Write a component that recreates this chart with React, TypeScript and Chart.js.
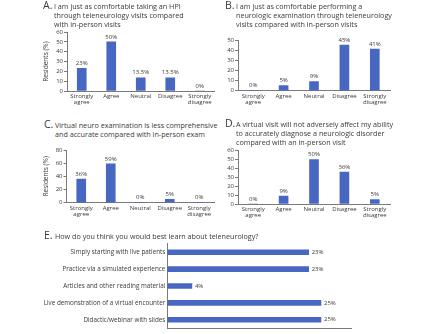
import React, { useEffect, useRef } from "react";
import { Chart, registerables } from "chart.js";
Chart.register(...registerables);

const likertLabels: (string | string[])[] = [["Strongly", "agree"], "Agree", "Neutral", "Disagree", ["Strongly", "disagree"]];
const valuesA = [23, 50, 13.5, 13.5, 0];
const valuesB = [0, 5, 9, 45, 41];
const valuesC = [36, 59, 0, 5, 0];
const valuesD = [0, 9, 50, 36, 5];
const learnLabels = [
  "Simply starting with live patients",
  "Practice via a simulated experience",
  "Articles and other reading material",
  "Live demonstration of a virtual encounter",
  "Didactic/webinar with slides",
];
const valuesE = [23, 23, 4, 25, 25];

const FONT = "'Open Sans', 'DejaVu Sans', sans-serif";
const TEXT = "#3a3a3a";
const AXIS = "#7a7a7a";
const BLUE = "#4767c3";

const valueLabels = {
  id: "valueLabels",
  afterDatasetsDraw(chart: any) {
    const ctx = chart.ctx;
    const horizontal = chart.options.indexAxis === "y";
    chart.data.datasets.forEach((ds: any, di: number) => {
      const meta = chart.getDatasetMeta(di);
      meta.data.forEach((el: any, i: number) => {
        const v = ds.data[i];
        ctx.save();
        ctx.font = "6px " + FONT;
        ctx.fillStyle = TEXT;
        if (horizontal) {
          ctx.textAlign = "left";
          ctx.textBaseline = "middle";
          ctx.fillText(v + "%", el.x + 3, el.y);
        } else {
          ctx.textAlign = "center";
          ctx.textBaseline = "bottom";
          ctx.fillText(v + "%", el.x, el.y - 2);
        }
        ctx.restore();
      });
    });
  },
};

type Box = { x: number; y: number; w: number; h: number };
type Area = { l: number; t: number; r: number; b: number };

function BarPanel(props: {
  box: Box;
  area: Area;
  labels: any[];
  values: number[];
  max: number;
  step?: number;
  yTitle?: string;
  horizontal?: boolean;
}) {
  const ref = useRef<HTMLCanvasElement>(null);
  useEffect(() => {
    const { box, area, labels, values, max, step, yTitle, horizontal } = props;
    const padLeft = yTitle ? 2 : 0;
    const font = { family: FONT, size: 6, lineHeight: 1.05 };
    let scales: any;
    if (!horizontal) {
      scales = {
        x: {
          type: "category",
          grid: { display: false, drawTicks: false, tickLength: 0 },
          border: { display: true, color: AXIS, width: 1 },
          ticks: { font, color: TEXT, padding: 2, maxRotation: 0, autoSkip: false },
          afterFit: (s: any) => {
            s.height = box.y + box.h - area.b;
          },
        },
        y: {
          min: 0,
          max,
          ticks: { stepSize: step, font, color: TEXT, padding: 1, autoSkip: false },
          grid: { drawOnChartArea: false, drawTicks: true, tickLength: 3, color: AXIS },
          border: { display: true, color: AXIS, width: 1 },
          title: yTitle
            ? { display: true, text: yTitle, font: { family: FONT, size: 6.5 }, color: TEXT, padding: 0 }
            : { display: false },
          afterFit: (s: any) => {
            s.width = area.l - box.x - padLeft;
          },
        },
      };
    } else {
      scales = {
        x: {
          min: 0,
          max,
          ticks: { display: false },
          grid: { display: false, drawTicks: false, tickLength: 0 },
          border: { display: true, color: AXIS, width: 1 },
          afterFit: (s: any) => {
            s.height = box.y + box.h - area.b;
          },
        },
        y: {
          type: "category",
          grid: { display: false, drawTicks: false, tickLength: 0 },
          border: { display: true, color: AXIS, width: 1 },
          ticks: { font: { family: FONT, size: 6.3 }, color: TEXT, padding: 2, autoSkip: false },
          afterFit: (s: any) => {
            s.width = area.l - box.x;
          },
        },
      };
    }
    const chart = new Chart(ref.current as HTMLCanvasElement, {
      type: "bar",
      data: {
        labels,
        datasets: [
          {
            data: values,
            backgroundColor: BLUE,
            borderWidth: 0,
            barThickness: horizontal ? 5 : 9,
          } as any,
        ],
      },
      options: {
        indexAxis: horizontal ? "y" : "x",
        responsive: false,
        animation: false,
        devicePixelRatio: 1,
        layout: {
          padding: {
            left: padLeft,
            top: area.t - box.y,
            right: box.x + box.w - area.r,
            bottom: 0,
          },
        },
        plugins: { legend: { display: false }, tooltip: { enabled: false } },
        scales,
      } as any,
      plugins: [valueLabels],
    });
    return () => chart.destroy();
  }, []);
  const { box } = props;
  return (
    <canvas
      ref={ref}
      width={box.w}
      height={box.h}
      style={{ position: "absolute", left: box.x, top: box.y, width: box.w, height: box.h }}
    />
  );
}

function Title(props: { letter: string; lines: string[]; x: number; y: number }) {
  return (
    <div
      style={{
        position: "absolute",
        left: props.x + 11,
        top: props.y,
        textIndent: -11,
        fontFamily: FONT,
        fontSize: 7.2,
        lineHeight: "9px",
        color: TEXT,
        whiteSpace: "nowrap",
        zIndex: 2,
      }}
    >
      <span style={{ display: "inline-block", width: 11, textIndent: 0, fontSize: 10.5 }}>{props.letter}</span>
      {props.lines.map((l, i) => (
        <React.Fragment key={i}>
          {i > 0 ? <br /> : null}
          {l}
        </React.Fragment>
      ))}
    </div>
  );
}

export default function App() {
  return (
    <div
      style={{
        position: "absolute",
        left: 0,
        top: 0,
        width: 443,
        height: 334,
        overflow: "hidden",
        background: "#fff",
      }}
    >
      <Title
        letter="A."
        x={43}
        y={0.5}
        lines={["I am just as comfortable taking an HPI", "through teleneurology visits compared", "with in-person visits"]}
      />
      <Title
        letter="B."
        x={225}
        y={0.5}
        lines={[
          "I am just as comfortable performing a",
          "neurologic examination through teleneurology",
          "visits compared with in-person visits",
        ]}
      />
      <Title
        letter="C."
        x={44}
        y={119.5}
        lines={["Virtual neuro examination is less comprehensive", "and accurate compared with in-person exam"]}
      />
      <Title
        letter="D."
        x={225}
        y={118.5}
        lines={[
          "A virtual visit will not adversely affect my ability",
          "to accurately diagnose a neurologic disorder",
          "compared with an in-person visit",
        ]}
      />
      <Title letter="E." x={44} y={230.5} lines={["How do you think you would best learn about teleneurology?"]} />

      <BarPanel
        box={{ x: 40, y: 26, w: 180, h: 86 }}
        area={{ l: 67, t: 32, r: 214.5, b: 91 }}
        labels={likertLabels}
        values={valuesA}
        max={60}
        step={10}
        yTitle="Residents (%)"
      />
      <BarPanel
        box={{ x: 222, y: 30, w: 221, h: 82 }}
        area={{ l: 238, t: 40, r: 390, b: 90.7 }}
        labels={likertLabels}
        values={valuesB}
        max={50}
        step={10}
      />
      <BarPanel
        box={{ x: 40, y: 140, w: 180, h: 82 }}
        area={{ l: 66.5, t: 150, r: 214, b: 202.7 }}
        labels={likertLabels}
        values={valuesC}
        max={80}
        step={20}
        yTitle="Residents (%)"
      />
      <BarPanel
        box={{ x: 222, y: 140, w: 221, h: 82 }}
        area={{ l: 238, t: 150.7, r: 390, b: 204 }}
        labels={likertLabels}
        values={valuesD}
        max={60}
        step={10}
      />
      <BarPanel
        box={{ x: 0, y: 238, w: 443, h: 96 }}
        area={{ l: 167.3, t: 241.7, r: 351.7, b: 331.3 }}
        labels={learnLabels}
        values={valuesE}
        max={30}
        horizontal
      />
    </div>
  );
}
